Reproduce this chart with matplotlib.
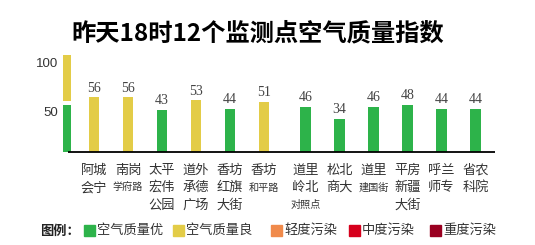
import matplotlib
matplotlib.use('Agg')
import matplotlib.pyplot as plt
from matplotlib.patches import Rectangle

# data
stations = [
    ["阿城", "会宁"],
    ["南岗", "学府路"],
    ["太平", "宏伟", "公园"],
    ["道外", "承德", "广场"],
    ["香坊", "红旗", "大街"],
    ["香坊", "和平路"],
    ["道里", "岭北", "对照点"],
    ["松北", "商大"],
    ["道里", "建国街"],
    ["平房", "新疆", "大街"],
    ["呼兰", "师专"],
    ["省农", "科院"],
]
aqi = [56, 56, 43, 53, 44, 51, 46, 34, 46, 48, 44, 44]
scale_ticks = [50, 100]
legend_labels = ["空气质量优", "空气质量良", "轻度污染", "中度污染", "重度污染"]
legend_colors = ["#2db34a", "#e3cc47", "#f08a4b", "#d6001c", "#9a0021"]
title = "昨天18时12个监测点空气质量指数"

CJK = ["Noto Sans CJK SC", "DejaVu Sans"]
GREEN, YELLOW = legend_colors[0], legend_colors[1]

W, H = 535, 245
fig = plt.figure(figsize=(W / 100, H / 100), dpi=100)

# axes laid out in pixels of the figure
k = 0.97          # px per aqi unit
y0 = 151.7        # baseline, px from top
ax_top = 50
step = 34         # px per bar slot
x_first = 94
ax = fig.add_axes([60 / W, (H - y0) / H, 440 / W, (y0 - ax_top) / H])
ax.set_xlim((60 - x_first) / step, (500 - x_first) / step)
ax.set_ylim(0, (y0 - ax_top) / k)
ax.axis('off')

pos = [i + (0.22 if i >= 6 else 0) for i in range(len(aqi))]
colors = [GREEN if v <= 50 else YELLOW for v in aqi]
ax.bar(pos, aqi, width=0.3, color=colors)

# colour scale on the left
sx = (66.8 - x_first) / step
gap = 2
ax.bar(sx, scale_ticks[0] - gap, bottom=0, width=0.23, color=GREEN)
ax.bar(sx, scale_ticks[1] - scale_ticks[0] - gap, bottom=scale_ticks[0] + gap,
       width=0.23, color=YELLOW)
for t in scale_ticks:
    ax.annotate(str(t), (sx, t), xytext=(-6, -7), textcoords='offset points',
                ha='right', va='center', fontsize=9.5, color='#333333',
                family='Liberation Sans')

# baseline
ax.plot([(68 - x_first) / step, (495 - x_first) / step], [0, 0],
        color='black', lw=1.3, clip_on=False, solid_capstyle='butt')

for p, v, lines in zip(pos, aqi, stations):
    ax.annotate(str(v), (p, v), xytext=(0, 2), textcoords='offset points',
                ha='center', va='bottom', fontsize=10, color='#444444',
                family='Liberation Serif')
    for j, line in enumerate(lines):
        ax.annotate(line, (p, 0), xytext=(0, -(13.2 + 12.6 * j)),
                    textcoords='offset points', ha='center', va='center',
                    fontsize=9.5 if len(line) <= 2 else 7.3, color='#333333',
                    family=CJK, annotation_clip=False)

fig.text(258 / W, 1 - 33 / H, title, ha='center', va='center', fontsize=17.5,
         fontweight='bold', family=CJK, color='black')

# legend
ly = 230.5
fig.text(40 / W, 1 - ly / H, "图例：", ha='left', va='center', fontsize=9.5,
         fontweight='bold', family=CJK, color='#222222')
for x, lab, c in zip([84, 173, 271, 349, 430], legend_labels, legend_colors):
    fig.patches.append(Rectangle((x / W, (H - ly - 5.5) / H), 11 / W, 11 / H,
                                 transform=fig.transFigure, color=c))
    fig.text((x + 13) / W, 1 - ly / H, lab, ha='left', va='center',
             fontsize=9.5, family=CJK, color='#333333')

fig.savefig('out.png', dpi=100)
